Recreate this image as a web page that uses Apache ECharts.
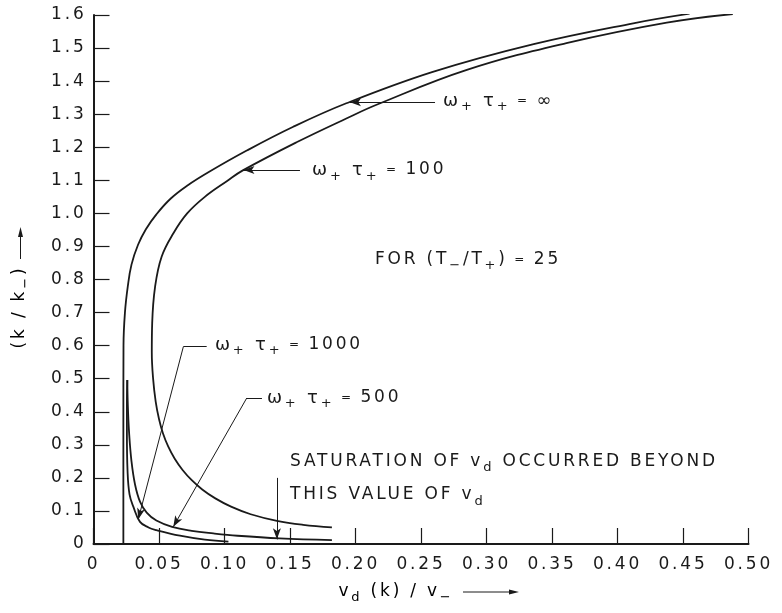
<!DOCTYPE html>
<html><head><meta charset="utf-8">
<script src="https://cdn.jsdelivr.net/npm/echarts@6/dist/echarts.min.js"></script>
<style>html,body{margin:0;padding:0;background:#fff}#c{width:782px;height:613px}</style>
</head><body><div id="c"></div>
<script>
// wide lettering like the original drafting font
(function(){
  const LS = '2.8px';
  const p = CanvasRenderingContext2D.prototype;
  const f = p.fillText, m = p.measureText;
  p.fillText = function(){ try{ this.letterSpacing = LS; }catch(e){} return f.apply(this, arguments); };
  p.measureText = function(){ try{ this.letterSpacing = LS; }catch(e){} return m.apply(this, arguments); };
})();

// ---- tick labels ----
const xTickLabels = ['0','0.05','0.10','0.15','0.20','0.25','0.30','0.35','0.40','0.45','0.50'];
const yTickLabels = ['0','0.1','0.2','0.3','0.4','0.5','0.6','0.7','0.8','0.9','1.0','1.1','1.2','1.3','1.4','1.5','1.6'];

// ---- curves ----
// omega+ tau+ = infinity
const xInf = [0.0228,0.0228,0.0229,0.0240,0.0262,0.0290,0.0340,0.0400,0.0480,0.0590,0.0720,0.0880,0.1170,0.1525,0.1930,0.2590,0.3360,0.4120,0.4550];
const yInf = [0.000, 0.350, 0.600, 0.700, 0.780, 0.845, 0.905, 0.952, 0.997, 1.045, 1.085, 1.125, 1.190, 1.262, 1.333, 1.428, 1.512, 1.575, 1.604];
// omega+ tau+ = 100
const x100 = [0.182,0.160,0.140,0.120,0.105,0.093,0.083,0.075,0.068,0.062,0.057,0.053,0.050,0.0475,0.0455,0.0445,0.0448,0.0470,0.0520,0.0610,0.0715,0.0850,0.1020,0.1140,0.1550,0.1930,0.2170,0.2850,0.3610,0.4376,0.4880];
const y100 = [0.050,0.058,0.070,0.090,0.113,0.138,0.165,0.193,0.224,0.258,0.295,0.335,0.378,0.430, 0.500, 0.580, 0.668, 0.778, 0.869, 0.940, 1.000, 1.050, 1.098, 1.130, 1.215, 1.287, 1.330, 1.434, 1.515, 1.577, 1.603];
// omega+ tau+ = 500
const x500 = [0.0258,0.0262,0.0272,0.0290,0.0317,0.0355,0.0406,0.0480,0.0600,0.0750,0.0915,0.1100,0.1420,0.1820];
const y500 = [0.496, 0.420, 0.335, 0.250, 0.180, 0.128, 0.095, 0.071, 0.052, 0.040, 0.032, 0.025, 0.017, 0.012];
// omega+ tau+ = 1000
const x1000 = [0.0258,0.0255,0.0255,0.0260,0.0275,0.0304,0.0355,0.0420,0.0480,0.0660,0.0850,0.1030];
const y1000 = [0.496, 0.420, 0.335, 0.220, 0.150, 0.113, 0.067, 0.050, 0.042, 0.025, 0.013, 0.007];

// ---- annotation leader lines (data coordinates) ----
const leadInf  = [[0.2607,1.336],[0.1958,1.336]];
const lead100  = [[0.1576,1.131],[0.1145,1.131]];
const lead1000 = [[0.0864,0.597],[0.0686,0.597],[0.0342,0.0750]];
const lead500  = [[0.1286,0.4416],[0.1170,0.4416],[0.0609,0.0520]];
const leadSat  = [[0.1400,0.200],[0.1400,0.014]];

// ---- annotation text anchors (left edge, vertical middle; data coordinates) ----
const noteInf  = [0.2668,1.340];
const note100  = [0.1668,1.131];
const noteFor  = [0.2149,0.859];
const note1000 = [0.0927,0.602];
const note500  = [0.1324,0.4416];
const noteSat1 = [0.1500,0.248];
const noteSat2 = [0.1500,0.148];

const FONT = 'DejaVu Sans';
const INK = '#1a1a1a';

function pairs(xs, ys){ return xs.map((x,i)=>[x, ys[i]]); }
function leaderSegments(pts){
  const segs = [];
  for (let i=0;i<pts.length-1;i++){
    const last = i === pts.length-2;
    segs.push([{coord: pts[i], symbol:'none'}, {coord: pts[i+1], symbol: last ? 'arrow' : 'none', symbolSize:[6,11]}]);
  }
  return segs;
}
const allLeaders = [].concat(leaderSegments(leadInf), leaderSegments(lead100), leaderSegments(lead1000), leaderSegments(lead500), leaderSegments(leadSat));

const curveStyle = {color: INK, width: 1.8};
function curve(name, xs, ys){
  return {name, type:'line', data: pairs(xs, ys), smooth: 0.4, showSymbol:false, symbol:'none',
    lineStyle: curveStyle, silent:true, animation:false};
}

const chart = echarts.init(document.getElementById('c'), null, {renderer:'canvas'});
const option = {
  backgroundColor:'#fff',
  animation:false,
  grid:{left:93.5, right:33.5, top:15, bottom:69},
  xAxis:{type:'value', min:0, max:0.5, interval:0.05,
    axisLine:{lineStyle:{color:INK, width:2}},
    axisTick:{inside:true, length:16, lineStyle:{color:INK, width:1.2}},
    splitLine:{show:false},
    axisLabel:{color:INK, fontFamily:FONT, fontSize:17, margin:11,
      formatter:(v)=>xTickLabels[Math.round(v/0.05)]}},
  yAxis:{type:'value', min:0, max:1.6, interval:0.1,
    axisLine:{lineStyle:{color:INK, width:2}},
    axisTick:{inside:true, length:16, lineStyle:{color:INK, width:1.2}},
    splitLine:{show:false},
    axisLabel:{color:INK, fontFamily:FONT, fontSize:17, margin:7,
      formatter:(v)=>yTickLabels[Math.round(v/0.1)]}},
  series:[
    curve('ω+τ+=∞', xInf, yInf),
    curve('ω+τ+=100', x100, y100),
    curve('ω+τ+=500', x500, y500),
    curve('ω+τ+=1000', x1000, y1000),
    {type:'line', data:[], silent:true,
      markLine:{silent:true, animation:false, symbol:['none','arrow'], label:{show:false},
        lineStyle:{color:INK, width:1, type:'solid'}, emphasis:{disabled:true},
        data: allLeaders}}
  ]
};
chart.setOption(option);

const rich = {
  m:{fontFamily:FONT, fontSize:18, lineHeight:28, color:INK},
  c:{fontFamily:FONT, fontSize:17, lineHeight:28, color:INK},
  s:{fontFamily:FONT, fontSize:13, verticalAlign:'bottom', color:INK},
  e:{fontFamily:FONT, fontSize:12, lineHeight:28, color:INK}
};
const omegaTau = '{m|ω}{s|+}{m| τ}{s|+}{e| = }';
function note(anchor, text){
  const p = chart.convertToPixel({gridIndex:0}, anchor);
  return {type:'text', x:p[0], y:p[1], silent:true,
    style:{text:text, rich:rich, verticalAlign:'middle', align:'left', fill:INK}};
}
const g = [
  note(noteInf, omegaTau + '{m|∞}'),
  note(note100, omegaTau + '{c|100}'),
  note(note1000, omegaTau + '{c|1000}'),
  note(note500, omegaTau + '{c|500}'),
  note(noteFor, '{c|FOR (T}{s|−}{c|/T}{s|+}{c|)}{e| = }{c|25}'),
  note(noteSat1, '{c|SATURATION OF v}{s|d}{c| OCCURRED BEYOND}'),
  note(noteSat2, '{c|THIS VALUE OF v}{s|d}')
];
// axis titles
const o = chart.convertToPixel({gridIndex:0}, [0,0]);
g.push({type:'text', x:396, y:o[1]+48, silent:true,
  style:{text:'{c|v}{s|d}{c| (k) / v}{s|−}', rich:rich, align:'center', verticalAlign:'middle'}});
g.push({type:'line', silent:true, shape:{x1:463, y1:o[1]+48, x2:513, y2:o[1]+48}, style:{stroke:INK, lineWidth:1}});
g.push({type:'polygon', silent:true, shape:{points:[[519,o[1]+48],[509,o[1]+45.5],[509,o[1]+50.5]]}, style:{fill:INK}});
g.push({type:'text', x:20, y:307, rotation:Math.PI/2, silent:true,
  style:{text:'{c|(k / k}{s|−}{c|)}', rich:rich, align:'center', verticalAlign:'middle'}});
g.push({type:'line', silent:true, shape:{x1:20.5, y1:259, x2:20.5, y2:234}, style:{stroke:INK, lineWidth:1}});
g.push({type:'polygon', silent:true, shape:{points:[[20.5,227],[18,237],[23,237]]}, style:{fill:INK}});
chart.setOption({graphic:g});
</script></body></html>
